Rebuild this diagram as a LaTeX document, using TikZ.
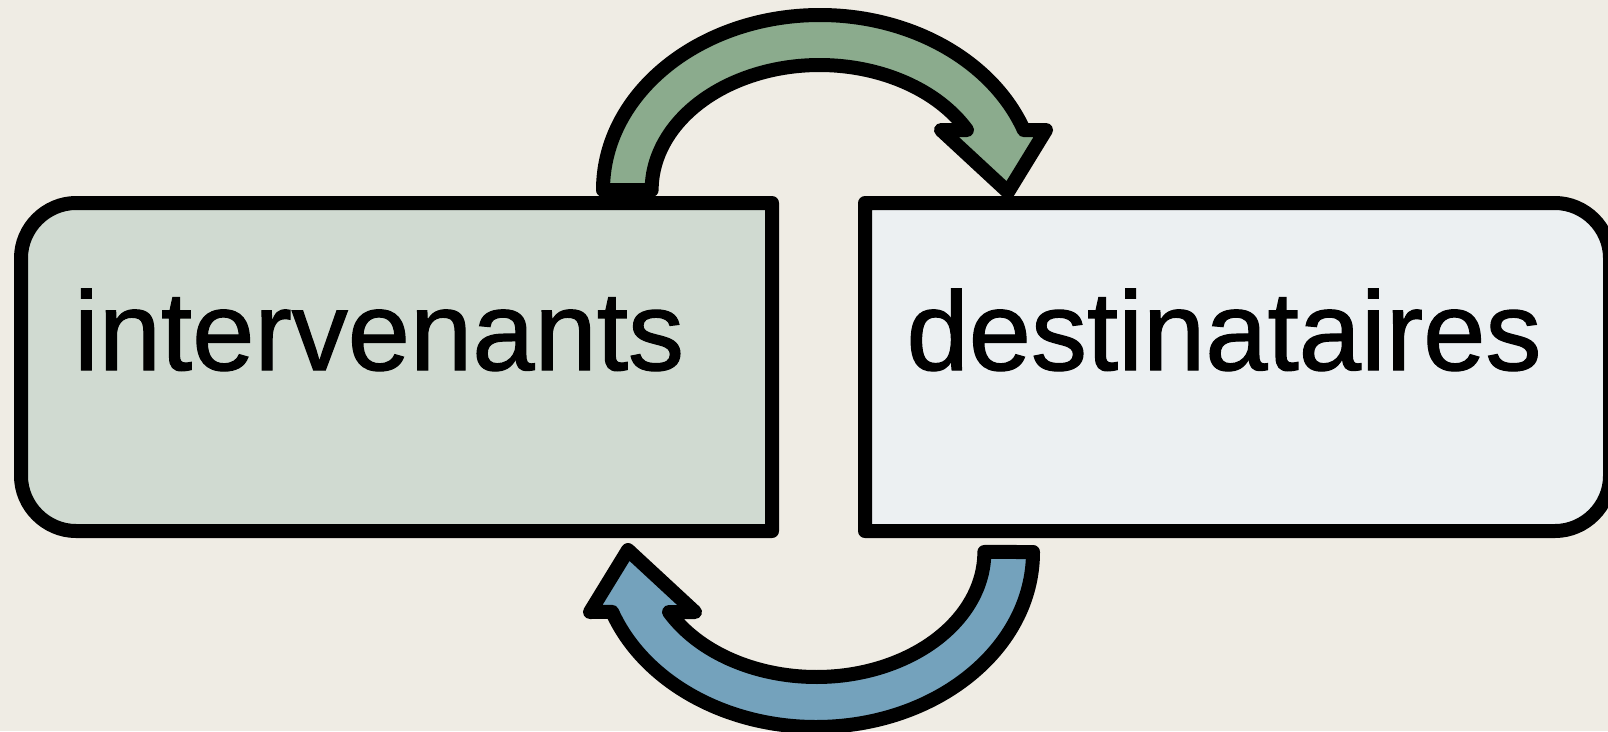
\documentclass[tikz,border=0pt]{standalone}
\usepackage{fontspec}
\newfontfamily\labelfont{Liberation Sans}[FakeBold=1.1]
\definecolor{bgc}{HTML}{EFECE4}
\definecolor{leftfill}{HTML}{D0DAD1}
\definecolor{rightfill}{HTML}{ECF0F2}
\definecolor{greenarrow}{HTML}{8BAB8D}
\definecolor{bluearrow}{HTML}{74A2BC}
\newcommand\curvedarrowpath{%
  (603,190) arc[start angle=180,end angle=20,x radius=217pt,y radius=175pt]
  -- (1046,130) -- (1008,192) -- (941,130) -- (967,130)
  arc[start angle=28.7,end angle=180,x radius=168pt,y radius=125pt]
  -- cycle}
\tikzset{
  outline/.style={draw=black,line width=14pt,line join=round},
  label/.style={inner sep=0pt,anchor=base,font=\labelfont\fontsize{112}{134}\selectfont}
}
\begin{document}
\begin{tikzpicture}[x=1pt,y=-1pt]
\fill[bgc] (0,0) rectangle (1608,731);
\useasboundingbox (0,0) rectangle (1608,731);
% left box
\draw[outline,fill=leftfill]
  (772,203) -- (76,203) .. controls (46,203) and (21,228) .. (21,258)
  -- (21,476) .. controls (21,506) and (46,531) .. (76,531)
  -- (772,531) -- cycle;
% right box
\draw[outline,fill=rightfill]
  (865,203) -- (1555,203) .. controls (1585,203) and (1610,228) .. (1610,258)
  -- (1610,476) .. controls (1610,506) and (1585,531) .. (1555,531)
  -- (865,531) -- cycle;
\node[label] (interv) at (379,370) {intervenants};
\node[label] (dest) at (1224,370) {destinataires};
% top arrow
\draw[outline,fill=greenarrow] \curvedarrowpath;
% bottom arrow
\begin{scope}[rotate around={180:(818,371)}]
\draw[outline,fill=bluearrow] \curvedarrowpath;
\end{scope}
\end{tikzpicture}
\end{document}
